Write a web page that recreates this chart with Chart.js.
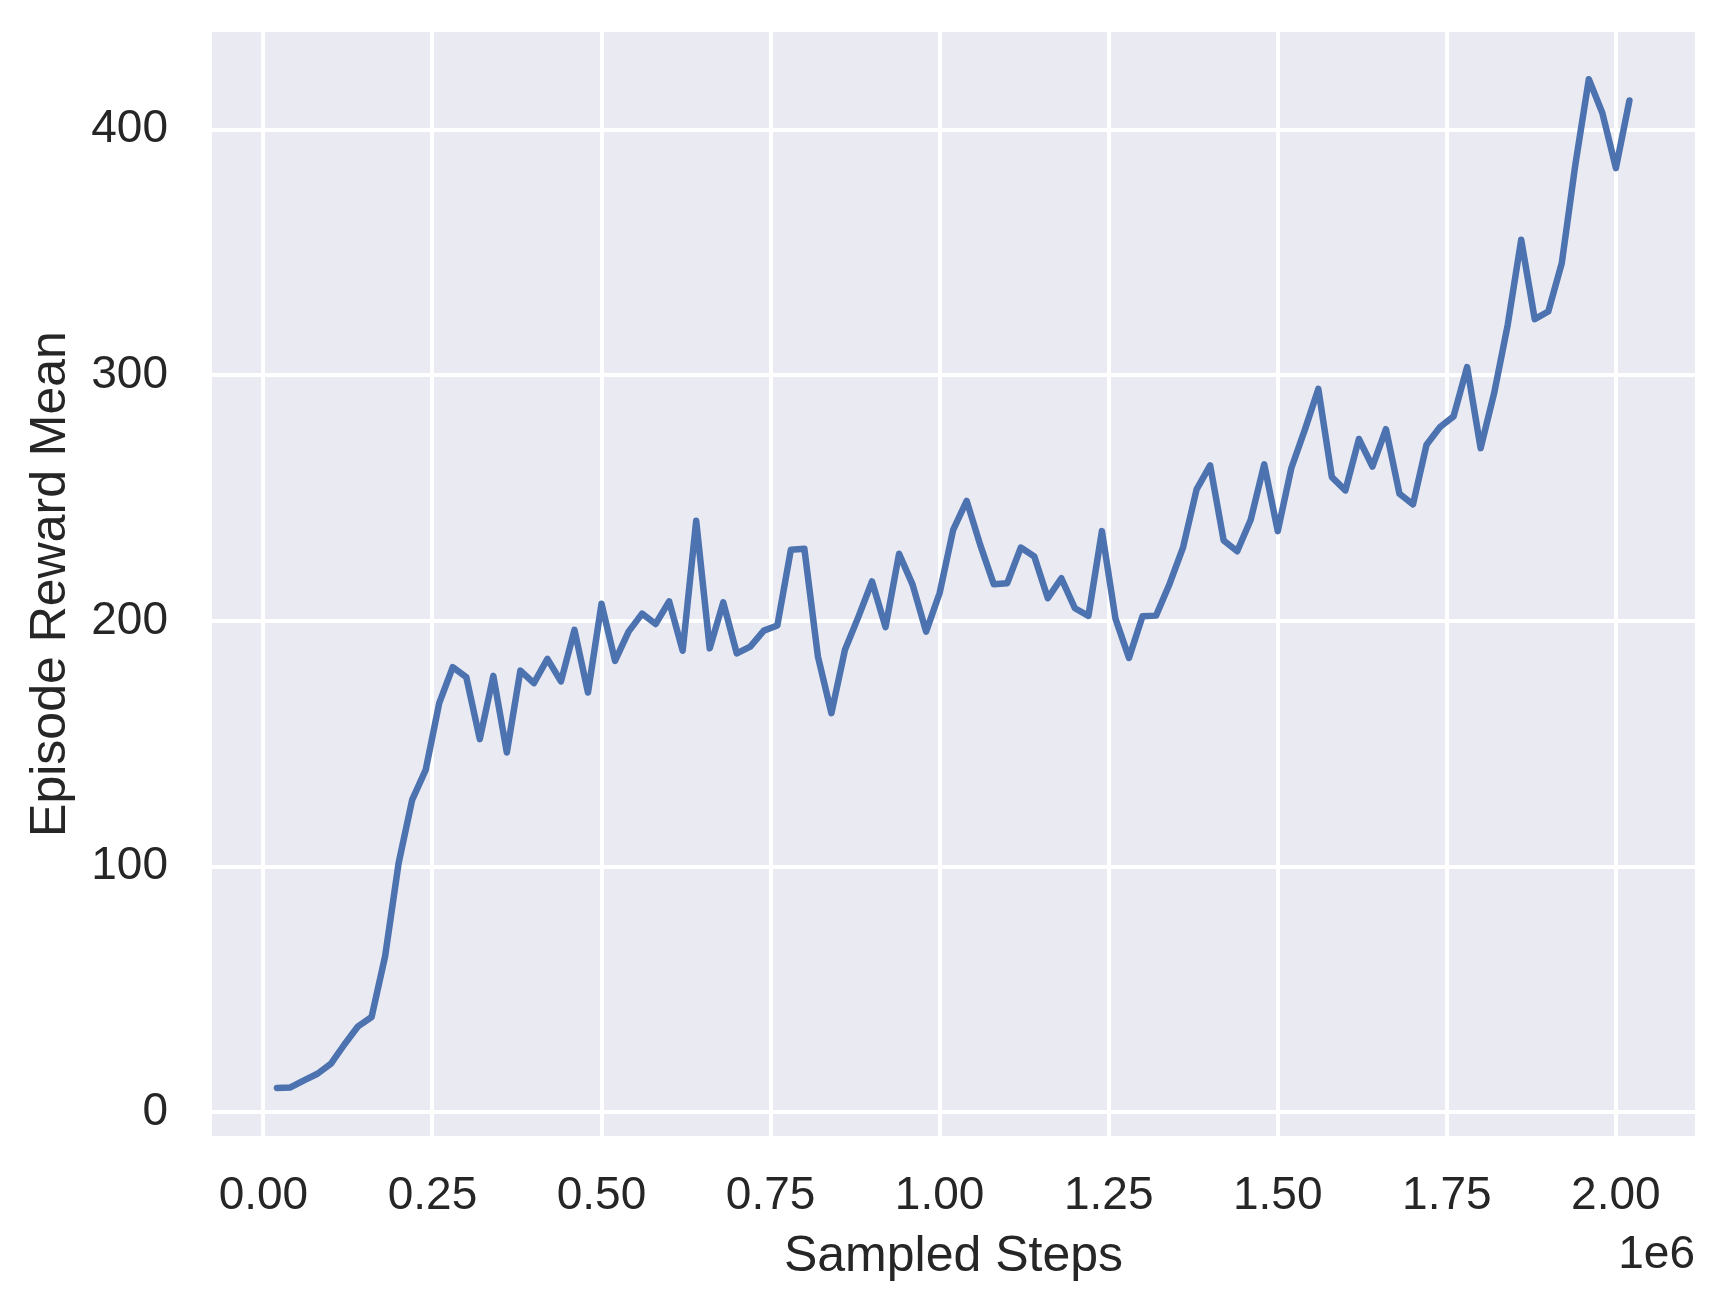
<!DOCTYPE html>
<html>
<head>
<meta charset="utf-8">
<script src="https://cdn.jsdelivr.net/npm/chart.js@4.4.1/dist/chart.umd.min.js"></script>
<style>
  html, body { margin: 0; padding: 0; background: #ffffff; }
  #wrap { width: 1726px; height: 1314px; }
</style>
</head>
<body>
<div id="wrap"><canvas id="rewardChart" width="1726" height="1314"></canvas></div>
<script>
// sampled steps (x) and mean episode reward (y)
const steps = [
  20000, 40000, 60000, 80000, 100000, 120000, 140000, 160000, 180000, 200000,
  220000, 240000, 260000, 280000, 300000, 320000, 340000, 360000, 380000, 400000,
  420000, 440000, 460000, 480000, 500000, 520000, 540000, 560000, 580000, 600000,
  620000, 640000, 660000, 680000, 700000, 720000, 740000, 760000, 780000, 800000,
  820000, 840000, 860000, 880000, 900000, 920000, 940000, 960000, 980000, 1000000,
  1020000, 1040000, 1060000, 1080000, 1100000, 1120000, 1140000, 1160000, 1180000, 1200000,
  1220000, 1240000, 1260000, 1280000, 1300000, 1320000, 1340000, 1360000, 1380000, 1400000,
  1420000, 1440000, 1460000, 1480000, 1500000, 1520000, 1540000, 1560000, 1580000, 1600000,
  1620000, 1640000, 1660000, 1680000, 1700000, 1720000, 1740000, 1760000, 1780000, 1800000,
  1820000, 1840000, 1860000, 1880000, 1900000, 1920000, 1940000, 1960000, 1980000, 2000000,
  2020000
];

const rewardMean = [
  9.9, 10.1, 13.0, 15.7, 19.8, 27.7, 35.0, 38.8, 63.5, 101.5,
  127.2, 139.4, 166.6, 181.2, 177.2, 151.9, 177.7, 146.5, 179.8, 174.7,
  184.6, 175.4, 196.4, 170.9, 207.0, 183.8, 195.7, 203.0, 198.8, 208.0,
  187.9, 240.8, 188.9, 207.6, 186.8, 189.6, 196.1, 198.2, 229.0, 229.4,
  185.6, 162.5, 188.3, 201.8, 216.1, 197.5, 227.4, 214.8, 195.7, 211.4,
  237.1, 248.9, 231.0, 215.0, 215.4, 229.9, 226.3, 209.3, 217.4, 205.2,
  202.1, 236.6, 201.0, 185.0, 201.9, 202.2, 215.1, 230.0, 253.6, 263.4,
  232.8, 228.4, 241.2, 263.8, 236.6, 262.2, 277.8, 294.5, 258.6, 253.2,
  274.1, 262.9, 278.1, 251.8, 247.5, 271.8, 279.0, 283.3, 303.4, 270.4,
  292.8, 320.5, 355.2, 322.9, 326.0, 345.7, 385.7, 420.6, 406.8, 384.4,
  411.9
];

const xTickValues = [0, 250000, 500000, 750000, 1000000, 1250000, 1500000, 1750000, 2000000];
const xTickLabels = ["0.00", "0.25", "0.50", "0.75", "1.00", "1.25", "1.50", "1.75", "2.00"];
const yTickValues = [0, 100, 200, 300, 400];
const yTickLabels = ["0", "100", "200", "300", "400"];

const FONT = "'Liberation Sans', Arial, Helvetica, sans-serif";
const TEXT = "#262626";

// seaborn style grey panel behind the plot
const panelBg = {
  id: "panelBg",
  beforeDraw(chart) {
    const { ctx, chartArea: a } = chart;
    ctx.save();
    ctx.fillStyle = "#EAEAF2";
    ctx.fillRect(a.left, a.top, a.right - a.left, a.bottom - a.top);
    ctx.restore();
  }
};

// the "1e6" offset text under the right end of the x axis
const offsetText = {
  id: "offsetText",
  afterDraw(chart) {
    const { ctx, chartArea: a } = chart;
    ctx.save();
    ctx.font = "46px " + FONT;
    ctx.fillStyle = TEXT;
    ctx.textAlign = "right";
    ctx.textBaseline = "alphabetic";
    ctx.fillText("1e6", a.right, 1268);
    ctx.restore();
  }
};

const points = steps.map((s, i) => ({ x: s, y: rewardMean[i] }));

new Chart(document.getElementById("rewardChart"), {
  type: "line",
  data: {
    datasets: [{
      label: "Episode Reward Mean",
      data: points,
      borderColor: "#4C72B0",
      borderWidth: 6.5,
      pointRadius: 0,
      tension: 0,
      fill: false,
      borderCapStyle: "round",
      borderJoinStyle: "round"
    }]
  },
  options: {
    responsive: false,
    devicePixelRatio: 1,
    animation: false,
    layout: { padding: { top: 32, right: 31, left: 0, bottom: 0 } },
    plugins: {
      legend: { display: false },
      tooltip: { enabled: false }
    },
    scales: {
      x: {
        type: "linear",
        min: -76000,
        max: 2117000,
        border: { display: false },
        grid: { color: "#ffffff", lineWidth: 4, drawTicks: false },
        afterBuildTicks: s => { s.ticks = xTickValues.map(v => ({ value: v })); },
        afterFit: s => {
          s.height = 178;
          s.paddingLeft = 0;
          s.paddingRight = 0;
        },
        ticks: {
          autoSkip: false,
          maxRotation: 0,
          padding: 33,
          color: TEXT,
          font: { family: FONT, size: 46 },
          callback: v => xTickLabels[xTickValues.indexOf(v)]
        },
        title: {
          display: true,
          text: "Sampled Steps",
          color: TEXT,
          font: { family: FONT, size: 50 },
          padding: { top: 0, bottom: 27 }
        }
      },
      y: {
        type: "linear",
        min: -9.65,
        max: 439.8,
        border: { display: false },
        grid: { color: "#ffffff", lineWidth: 4, drawTicks: false },
        afterBuildTicks: s => { s.ticks = yTickValues.map(v => ({ value: v })); },
        afterFit: s => {
          s.width = 212;
          s.paddingTop = 0;
          s.paddingBottom = 0;
        },
        ticks: {
          padding: 44,
          color: TEXT,
          font: { family: FONT, size: 46 },
          callback: v => yTickLabels[yTickValues.indexOf(v)]
        },
        title: {
          display: true,
          text: "Episode Reward Mean",
          color: TEXT,
          font: { family: FONT, size: 50 },
          padding: { top: 21, bottom: 0 }
        }
      }
    }
  },
  plugins: [panelBg, offsetText]
});
</script>
</body>
</html>
